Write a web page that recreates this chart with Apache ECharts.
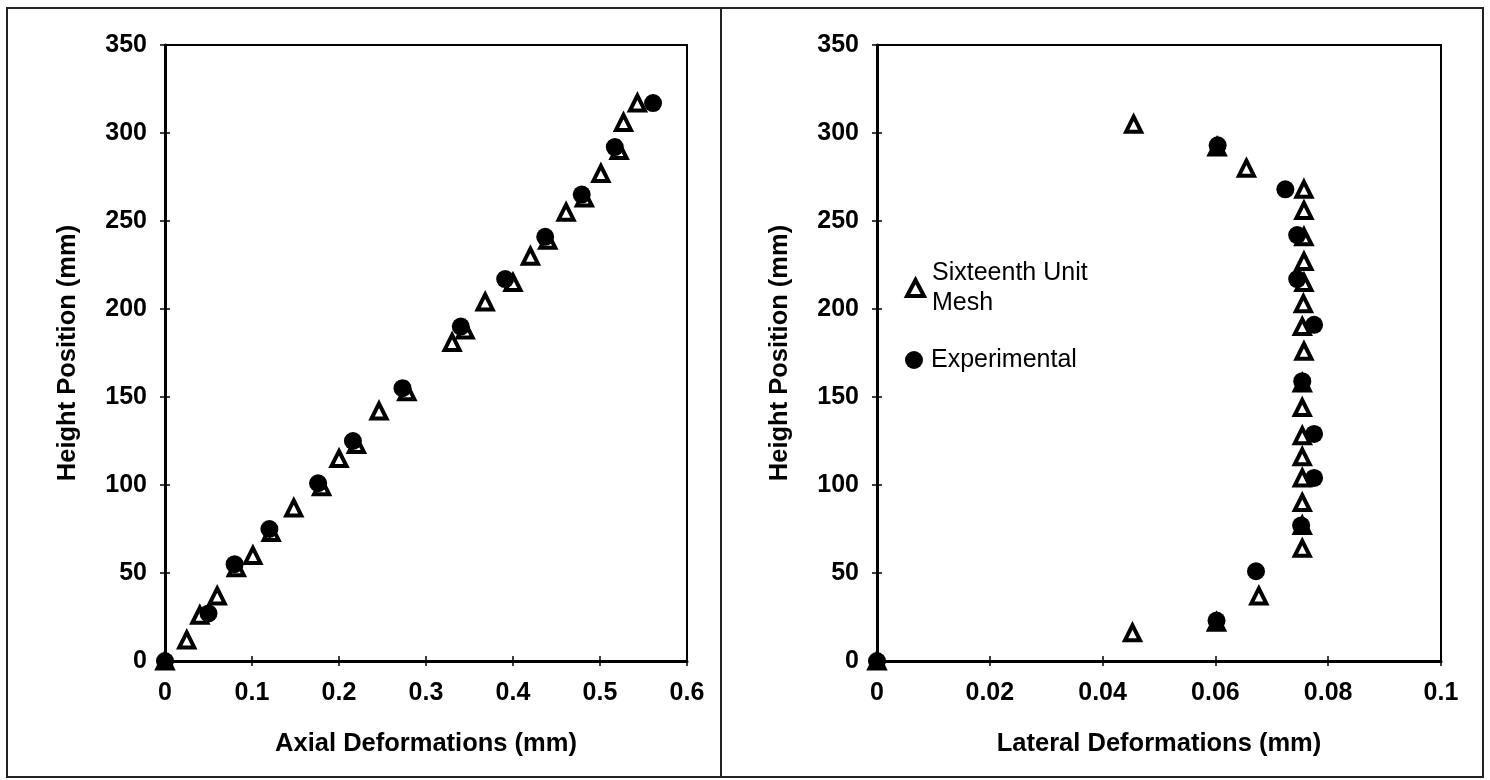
<!DOCTYPE html>
<html>
<head>
<meta charset="utf-8">
<title>Axial and Lateral Deformations</title>
<script src="https://cdn.jsdelivr.net/npm/echarts@6/dist/echarts.min.js"></script>
<style>
  html, body { margin: 0; padding: 0; background: #fff; }
  #chart { width: 1490px; height: 780px; }
</style>
</head>
<body>
<div id="chart"></div>
<script>
// Height positions (mm) and deformations (mm) for the two measured/modelled profiles
const axialMeshDeform = [0, 0.025, 0.04, 0.06, 0.082, 0.101, 0.122, 0.148, 0.18, 0.2, 0.22, 0.246, 0.278, 0.33, 0.345, 0.368, 0.40, 0.42, 0.44, 0.461, 0.482, 0.501, 0.522, 0.527, 0.543];
const axialMeshHeight = [0, 12, 26, 37, 53, 60, 73, 87, 99, 115, 123, 142, 153, 181, 188, 204, 215, 230, 239, 255, 263, 277, 290, 306, 317];
const axialExpDeform  = [0, 0.05, 0.08, 0.12, 0.176, 0.216, 0.273, 0.34, 0.391, 0.437, 0.479, 0.517, 0.561];
const axialExpHeight  = [0, 27, 55, 75, 101, 125, 155, 190, 217, 241, 265, 292, 317];

const lateralMeshDeform = [0, 0.0453, 0.0602, 0.0677, 0.0754, 0.0754, 0.0754, 0.0754, 0.0754, 0.0754, 0.0754, 0.0754, 0.0757, 0.0754, 0.0756, 0.0757, 0.0757, 0.0757, 0.0757, 0.0757, 0.0655, 0.0603, 0.0455];
const lateralMeshHeight = [0, 16, 22, 37, 64, 77, 90, 104, 116, 128, 144, 158, 176, 190, 203, 215, 227, 241, 256, 268, 280, 292, 305];
const lateralExpDeform  = [0, 0.0602, 0.0672, 0.0752, 0.0775, 0.0775, 0.0754, 0.0775, 0.0745, 0.0745, 0.0724, 0.0604];
const lateralExpHeight  = [0, 23, 51, 77, 104, 129, 159, 191, 217, 242, 268, 293];

const seriesNames = ['Sixteenth Unit Mesh', 'Experimental'];
const axisTitles = {
  axialX: 'Axial Deformations (mm)',
  lateralX: 'Lateral Deformations (mm)',
  y: 'Height Position (mm)'
};

const zip = (xs, ys) => xs.map((x, i) => [x, ys[i]]);

const FONT = 'Liberation Sans, Arial, sans-serif';
const labelStyle = { color: '#000', fontFamily: FONT, fontWeight: 'bold', fontSize: 25 };
const nameStyle = { color: '#000', fontFamily: FONT, fontWeight: 'bold', fontSize: 25.5 };

function mainX(grid, max, interval, title) {
  return {
    type: 'value', gridIndex: grid, min: 0, max: max, interval: interval, position: 'bottom',
    name: title, nameLocation: 'middle', nameGap: 70, nameTextStyle: nameStyle,
    axisLine: { show: true, onZero: false, lineStyle: { color: '#000', width: 3 } },
    axisTick: { show: true, inside: false, length: 5, lineStyle: { color: '#000', width: 1.5 } },
    axisLabel: Object.assign({ margin: 20, formatter: v => String(+v.toFixed(3)) }, labelStyle),
    splitLine: { show: false }
  };
}
function innerX(grid, max, interval) {
  return {
    type: 'value', gridIndex: grid, min: 0, max: max, interval: interval, position: 'bottom',
    axisLine: { show: false },
    axisTick: { show: true, inside: true, length: 5, lineStyle: { color: '#000', width: 1.5 } },
    axisLabel: { show: false }, splitLine: { show: false }
  };
}
function mainY(grid) {
  return {
    type: 'value', gridIndex: grid, min: 0, max: 350, interval: 50, position: 'left',
    name: axisTitles.y, nameLocation: 'middle', nameGap: 84, nameTextStyle: nameStyle,
    axisLine: { show: true, onZero: false, lineStyle: { color: '#000', width: 3 } },
    axisTick: { show: true, inside: false, length: 5, lineStyle: { color: '#000', width: 1.5 } },
    axisLabel: Object.assign({ margin: 18 }, labelStyle),
    splitLine: { show: false }
  };
}
function innerY(grid) {
  return {
    type: 'value', gridIndex: grid, min: 0, max: 350, interval: 50, position: 'left',
    axisLine: { show: false },
    axisTick: { show: true, inside: true, length: 5, lineStyle: { color: '#000', width: 1.5 } },
    axisLabel: { show: false }, splitLine: { show: false }
  };
}

const meshItem = { color: 'rgba(255,255,255,0)', borderColor: '#000', borderWidth: 4, opacity: 1 };
const meshStyle = { symbol: 'triangle', symbolSize: 15, itemStyle: meshItem };
const expStyle = {
  symbol: 'circle', symbolSize: 18,
  itemStyle: { color: '#000', borderColor: '#000', borderWidth: 0, opacity: 1 }
};

function scatter(name, data, axisIdx, style, z) {
  return Object.assign({
    type: 'scatter', name: name, data: data,
    xAxisIndex: axisIdx, yAxisIndex: axisIdx, z: z,
    emphasis: { disabled: true }, silent: true
  }, style);
}

const chart = echarts.init(document.getElementById('chart'), null, { renderer: 'canvas' });

chart.setOption({
  backgroundColor: '#fff',
  animation: false,
  graphic: [
    { type: 'rect', shape: { x: 7, y: 8, width: 714, height: 769 },
      style: { fill: 'none', stroke: '#222', lineWidth: 2 }, silent: true },
    { type: 'rect', shape: { x: 721, y: 8, width: 762, height: 769 },
      style: { fill: 'none', stroke: '#222', lineWidth: 2 }, silent: true }
  ],
  grid: [
    { left: 165, top: 45, width: 522, height: 616, show: true, borderColor: '#000', borderWidth: 2, backgroundColor: 'transparent' },
    { left: 877, top: 45, width: 564, height: 616, show: true, borderColor: '#000', borderWidth: 2, backgroundColor: 'transparent' }
  ],
  xAxis: [
    mainX(0, 0.6, 0.1, axisTitles.axialX),
    innerX(0, 0.6, 0.1),
    mainX(1, 0.1, 0.02, axisTitles.lateralX),
    innerX(1, 0.1, 0.02)
  ],
  yAxis: [mainY(0), innerY(0), mainY(1), innerY(1)],
  legend: [
    {
      data: [seriesNames[0]], left: 900, top: 238, orient: 'vertical',
      itemWidth: 17, itemHeight: 16,
      itemStyle: { color: 'rgba(255,255,255,0)', borderColor: '#000', borderWidth: 4 },
      formatter: () => 'Sixteenth Unit\nMesh',
      textStyle: { color: '#000', fontFamily: FONT, fontSize: 25, lineHeight: 30, padding: [30, 0, 0, 3] },
      selectedMode: false
    },
    {
      data: [seriesNames[1]], left: 900, top: 340, orient: 'vertical',
      itemWidth: 18, itemHeight: 18,
      textStyle: { color: '#000', fontFamily: FONT, fontSize: 25, lineHeight: 30, padding: [0, 0, 0, 3] },
      selectedMode: false
    }
  ],
  series: [
    scatter(seriesNames[1], zip(axialExpDeform, axialExpHeight), 0, expStyle, 2),
    scatter(seriesNames[0], zip(axialMeshDeform, axialMeshHeight), 0, meshStyle, 3),
    scatter(seriesNames[1], zip(lateralExpDeform, lateralExpHeight), 2, expStyle, 2),
    scatter(seriesNames[0], zip(lateralMeshDeform, lateralMeshHeight), 2, meshStyle, 3)
  ]
});
</script>
</body>
</html>
